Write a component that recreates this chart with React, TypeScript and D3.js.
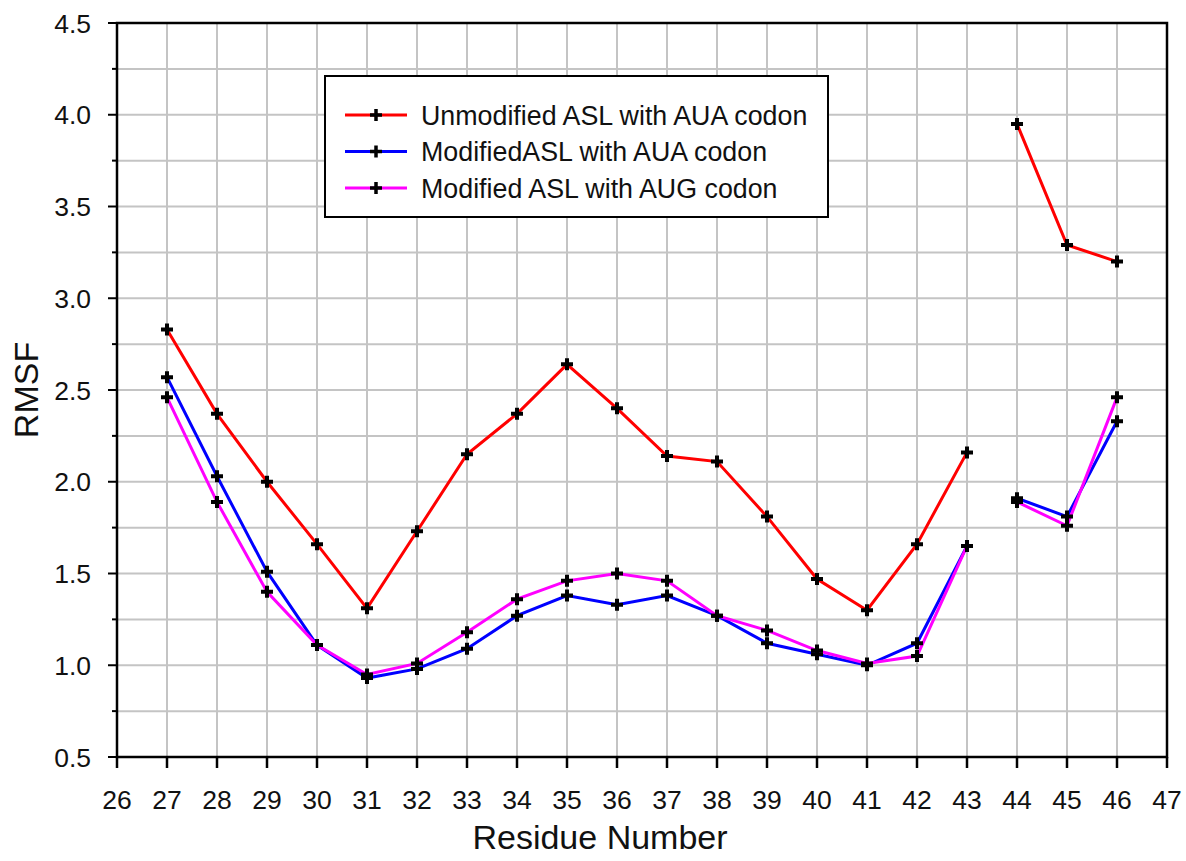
import * as d3 from "d3";
import React from "react";

const residues = [27, 28, 29, 30, 31, 32, 33, 34, 35, 36, 37, 38, 39, 40, 41, 42, 43, 44, 45, 46];
const unmodifiedAUA = [2.83, 2.37, 2.0, 1.66, 1.31, 1.73, 2.15, 2.37, 2.64, 2.4, 2.14, 2.11, 1.81, 1.47, 1.3, 1.66, 2.16, 3.95, 3.29, 3.2];
const modifiedAUA = [2.57, 2.03, 1.51, 1.11, 0.93, 0.98, 1.09, 1.27, 1.38, 1.33, 1.38, 1.27, 1.12, 1.06, 1.0, 1.12, 1.65, 1.91, 1.81, 2.33];
const modifiedAUG = [2.46, 1.89, 1.4, 1.11, 0.95, 1.01, 1.18, 1.36, 1.46, 1.5, 1.46, 1.27, 1.19, 1.08, 1.01, 1.05, 1.65, 1.89, 1.76, 2.46];
// line is broken between 43 and 44
const segmentStarts = [27, 44];

const seriesNames = ["Unmodified ASL with AUA codon", "ModifiedASL with AUA codon", "Modified ASL with AUG codon"];
const seriesColors = ["#ff0000", "#0000ff", "#ff00ff"];
const seriesValues = [unmodifiedAUA, modifiedAUA, modifiedAUG];

const xTicks = d3.range(26, 48);
const yMajor = d3.range(0.5, 4.51, 0.5);
const yMinor = d3.range(0.5, 4.51, 0.25);

const W = 1186, H = 861;
const ml = 117, mr = 1167, mt = 23, mb = 757;
const font = "'Liberation Sans', Arial, sans-serif";

const plus = "M-6,0H6M0,-6V6";

const App: React.FC = () => {
  const x = d3.scaleLinear([26, 47], [ml, mr]);
  const y = d3.scaleLinear([0.5, 4.5], [mb, mt]);

  const line = d3.line<[number, number]>().x(d => x(d[0])).y(d => y(d[1]));

  const segments = (vals: number[]) =>
    segmentStarts.map((s, i) => {
      const end = i + 1 < segmentStarts.length ? segmentStarts[i + 1] : Infinity;
      return residues.map((r, j) => [r, vals[j]] as [number, number]).filter(d => d[0] >= s && d[0] < end);
    });

  const legX = 325, legY = 76, legW = 503, legH = 141;

  return (
    <svg width={W} height={H} style={{ position: "absolute", left: 0, top: 0, background: "white" }}>
      {/* grid */}
      {yMinor.map(v => (
        <line key={"gy" + v} x1={ml} x2={mr} y1={y(v)} y2={y(v)} stroke="#c4c4c4" strokeWidth={2} />
      ))}
      {xTicks.map(v => (
        <line key={"gx" + v} x1={x(v)} x2={x(v)} y1={mt} y2={mb} stroke="#c4c4c4" strokeWidth={2} />
      ))}

      {/* frame */}
      <rect x={ml} y={mt} width={mr - ml} height={mb - mt} fill="none" stroke="black" strokeWidth={2.5} />

      {/* y axis ticks */}
      {yMinor.map(v => {
        const major = Math.abs((v * 2) - Math.round(v * 2)) < 1e-6;
        return <line key={"ty" + v} x1={major ? ml - 9 : ml - 5} x2={ml} y1={y(v)} y2={y(v)} stroke="black" strokeWidth={2} />;
      })}
      {yMajor.map(v => (
        <text key={"ly" + v} x={91} y={y(v)} dy="0.36em" textAnchor="end" fontFamily={font} fontSize={26.5} fill="#111">
          {v.toFixed(1)}
        </text>
      ))}

      {/* x axis ticks */}
      {xTicks.map(v => (
        <g key={"tx" + v}>
          <line x1={x(v)} x2={x(v)} y1={mb} y2={mb + 11} stroke="black" strokeWidth={2.5} />
          <text x={x(v)} y={799} dy="0.36em" textAnchor="middle" fontFamily={font} fontSize={26.5} fill="#111">
            {v}
          </text>
        </g>
      ))}

      {/* axis titles */}
      <text x={600} y={849} textAnchor="middle" fontFamily={font} fontSize={34} fill="#111">Residue Number</text>
      <text transform={`translate(38, ${390}) rotate(-90)`} textAnchor="middle" fontFamily={font} fontSize={34} fill="#111">RMSF</text>

      {/* series */}
      {seriesValues.map((vals, si) => (
        <g key={"s" + si}>
          {segments(vals).map((seg, k) => (
            <path key={k} d={line(seg) || ""} fill="none" stroke={seriesColors[si]} strokeWidth={3} />
          ))}
        </g>
      ))}
      {seriesValues.map((vals, si) => (
        <g key={"m" + si}>
          {residues.map((r, j) => (
            <path key={j} d={plus} transform={`translate(${x(r)},${y(vals[j])})`} stroke="black" strokeWidth={4} fill="none" />
          ))}
        </g>
      ))}

      {/* legend */}
      <rect x={legX} y={legY} width={legW} height={legH} fill="white" stroke="black" strokeWidth={2} />
      {seriesNames.map((name, i) => {
        const cy = 115 + i * 36.5;
        return (
          <g key={"lg" + i}>
            <line x1={345} x2={407} y1={cy} y2={cy} stroke={seriesColors[i]} strokeWidth={3} />
            <path d={plus} transform={`translate(376,${cy})`} stroke="black" strokeWidth={3.5} fill="none" />
            <text x={421} y={cy} dy="0.36em" fontFamily={font} fontSize={26.8} fill="#111">{name}</text>
          </g>
        );
      })}
    </svg>
  );
};

export default App;
